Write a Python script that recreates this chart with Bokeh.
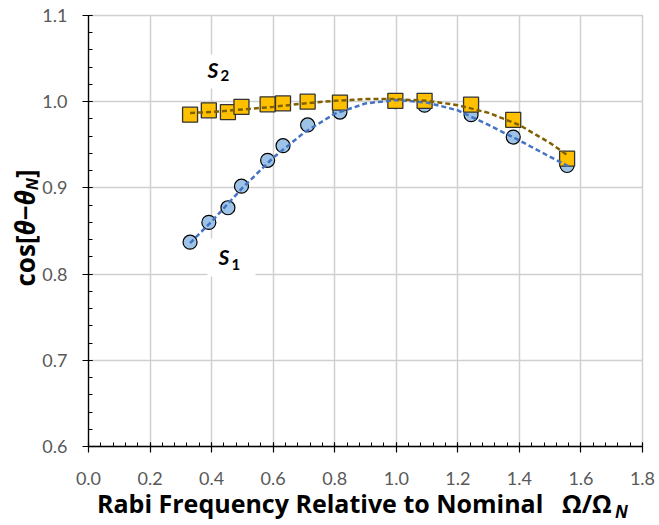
import numpy as np
from bokeh.plotting import figure
from bokeh.models import (Label, BoxAnnotation, Range1d, SingleIntervalTicker, FixedTicker,
                          CustomJSTickFormatter, Div)
from bokeh.layouts import row, column
from bokeh.embed import file_html
from bokeh.resources import INLINE

# ---- data ----
rabi = [0.330, 0.391, 0.453, 0.497, 0.582, 0.632, 0.712, 0.817, 0.997, 1.092, 1.243, 1.380, 1.555]
s1 = [0.837, 0.860, 0.877, 0.902, 0.932, 0.949, 0.973, 0.988, 1.000, 0.996, 0.985, 0.959, 0.926]
s2 = [0.985, 0.990, 0.988, 0.994, 0.997, 0.998, 1.000, 0.999, 1.001, 1.001, 0.9965, 0.979, 0.934]

trend_x = [0.33, 0.40, 0.50, 0.60, 0.70, 0.80, 0.90, 1.00, 1.10, 1.20, 1.30, 1.40, 1.50, 1.56]
s1_trend = [0.836, 0.861, 0.900, 0.935, 0.964, 0.986, 0.998, 1.002, 0.999, 0.990, 0.973, 0.955, 0.936, 0.925]
s2_trend = [0.987, 0.988, 0.991, 0.994, 0.998, 1.001, 1.003, 1.003, 1.001, 0.996, 0.987, 0.973, 0.952, 0.937]

x_ticks = [0.0, 0.2, 0.4, 0.6, 0.8, 1.0, 1.2, 1.4, 1.6, 1.8]
y_ticks = [0.6, 0.7, 0.8, 0.9, 1.0, 1.1]

x_title = "Rabi Frequency Relative to Nominal"
x_title_sym = "\u03a9/\u03a9"
title_sub = "N"

# ---- layout geometry (canvas pixels) ----
W, H = 659, 525
YDIV_W = 39
FIG_H = 493
L, R, T, B = 88, 642, 15, 446
XMIN, XMAX, YMIN, YMAX = 0.0, 1.8, 0.6, 1.1


def dx(px):
    return XMIN + (px - L) / (R - L) * (XMAX - XMIN)


def dy(py):
    return YMAX - (py - T) / (B - T) * (YMAX - YMIN)


FONT = "Lato"
TFONT = "'Open Sans'"
GRID = "#d0d0d0"

p = figure(width=W - YDIV_W, height=FIG_H, output_backend="svg", toolbar_location=None,
           x_range=Range1d(XMIN, XMAX), y_range=Range1d(YMIN, YMAX),
           min_border_left=L - YDIV_W, min_border_right=W - R, min_border_top=T,
           min_border_bottom=FIG_H - B, margin=0)
p.outline_line_color = GRID
p.outline_line_width = 1.5
p.background_fill_color = "white"
p.border_fill_color = "white"

for ax in (p.xaxis[0], p.yaxis[0]):
    ax.axis_line_color = "black"
    ax.axis_line_width = 1.3
    ax.major_tick_line_color = "black"
    ax.minor_tick_line_color = "black"
    ax.major_tick_line_width = 1.2
    ax.minor_tick_line_width = 1.0
    ax.major_tick_in = 4
    ax.major_tick_out = 6
    ax.minor_tick_in = 4
    ax.minor_tick_out = 0
    ax.major_label_text_font = FONT
    ax.major_label_text_font_size = "18px"
    ax.major_label_text_color = "#595959"

p.xaxis[0].ticker = SingleIntervalTicker(interval=0.2, num_minor_ticks=5)
p.yaxis[0].ticker = SingleIntervalTicker(interval=0.1, num_minor_ticks=5)
p.xaxis[0].formatter = CustomJSTickFormatter(code="return tick.toFixed(1);")
p.yaxis[0].formatter = CustomJSTickFormatter(code="return tick.toFixed(1);")
p.xaxis[0].major_label_standoff = 19
p.yaxis[0].major_label_standoff = 15

p.xgrid[0].ticker = FixedTicker(ticks=x_ticks)
p.ygrid[0].ticker = FixedTicker(ticks=y_ticks)
for g in (p.xgrid[0], p.ygrid[0]):
    g.grid_line_color = GRID
    g.grid_line_width = 1.5

# white boxes behind the series labels
p.add_layout(BoxAnnotation(left=dx(200), right=dx(246), top=dy(54), bottom=dy(88),
                           fill_color="white", fill_alpha=1, line_alpha=0, level="underlay"))
p.add_layout(BoxAnnotation(left=dx(207), right=dx(255), top=dy(238), bottom=dy(276),
                           fill_color="white", fill_alpha=1, line_alpha=0, level="underlay"))

# markers
p.scatter(rabi, s1, marker="circle", size=14, fill_color="#9DC3E6",
          line_color="black", line_width=1.2)
p.scatter(rabi, s2, marker="square", size=15, fill_color="#FFC000",
          line_color="#333333", line_width=1.3)

# trendlines
p.line(trend_x, s1_trend, line_color="#4472C4", line_width=2.5, line_dash="5 3")
p.line(trend_x, s2_trend, line_color="#806000", line_width=2.5, line_dash="5 3")


def lab(x, y, text, size, style="bold italic"):
    p.add_layout(Label(x=x, y=y, text=text, text_font=FONT, text_font_size=size,
                       text_font_style=style, text_color="black",
                       text_align="left", text_baseline="alphabetic"))


# series labels
lab(dx(207), dy(69), "S", "21px")
lab(dx(220), dy(75), "2", "15px", style="bold")
lab(dx(218), dy(256), "S", "21px")
lab(dx(231), dy(264), "1", "15px", style="bold")

# ---- axis titles as HTML (subscripts) ----
base = f"font-family:{TFONT}; font-weight:bold; color:black; white-space:nowrap;"

ydiv_html = (
    f'<div style="position:relative; width:{YDIV_W}px; height:{FIG_H}px;">'
    f'<div style="position:absolute; left:12px; top:328px; width:200px; text-align:center; '
    f'transform:rotate(-90deg); transform-origin:0 0; {base} font-size:26px; line-height:26px;">'
    f'cos[<i>\u03b8</i>\u2212<i>\u03b8</i>'
    f'<i style="font-size:16px; vertical-align:-3px;">{title_sub}</i>]</div></div>'
)

XDIV_H = H - FIG_H
xdiv_html = (
    f'<div style="position:relative; width:{W}px; height:{XDIV_H}px;">'
    f'<span style="position:absolute; left:97px; top:5px; {base} font-size:25px; line-height:10px;">{x_title}</span>'
    f'<span style="position:absolute; left:562px; top:5px; {base} font-size:25px; line-height:10px;">{x_title_sym}</span>'
    f'<span style="position:absolute; left:615px; top:14px; {base} font-style:italic; font-size:17px; line-height:10px;">{title_sub}</span>'
    f'</div>'
)

ydiv = Div(text=ydiv_html, width=YDIV_W, height=FIG_H, margin=0,
           styles={"overflow": "visible", "padding": "0", "margin": "0"})
xdiv = Div(text=xdiv_html, width=W, height=XDIV_H, margin=0,
           styles={"overflow": "visible", "padding": "0", "margin": "0"})

layout = column(row(ydiv, p, spacing=0, margin=0), xdiv, spacing=0, margin=0)

open("out.html", "w").write(file_html(layout, INLINE))
